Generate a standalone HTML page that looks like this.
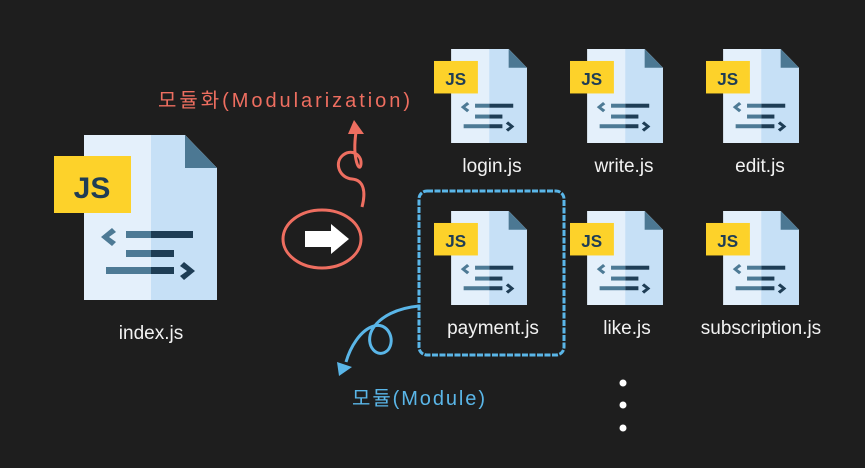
<!DOCTYPE html>
<html><head><meta charset="utf-8"><style>
html,body{margin:0;padding:0;background:#1e1e1e;}
body{width:865px;height:468px;overflow:hidden;position:relative;}
svg{position:absolute;left:0;top:0;}
.lbl{font-family:"Liberation Sans",sans-serif;fill:#f2f2f2;text-anchor:middle;}
</style></head><body>
<svg width="865" height="468" viewBox="0 0 865 468">
<defs>
<g id="ic">
  <path d="M30,0 H131 L163,33 V165 H30 Z" fill="#e4f0fb"/>
  <path d="M97,0 H131 L163,33 V165 H97 Z" fill="#c6e0f6"/>
  <path d="M131,0 L163,33 H131 Z" fill="#4c7893"/>
  <rect x="0" y="21" width="77" height="57" fill="#fdd22a"/>
  <text x="38" y="63" font-family="Liberation Sans,sans-serif" font-weight="bold" font-size="30" fill="#1f3d55" text-anchor="middle">JS</text>
  <path d="M58,93 L47,102 L58,111 L62,107 L55,102 L62,97 Z" fill="#4d7a95"/>
  <rect x="72" y="96" width="25" height="7" fill="#4d7a95"/><rect x="97" y="96" width="42" height="7" fill="#1e3d55"/>
  <rect x="72" y="115" width="25" height="7" fill="#4d7a95"/><rect x="97" y="115" width="23" height="7" fill="#1e3d55"/>
  <rect x="52" y="132" width="45" height="7" fill="#4d7a95"/><rect x="97" y="132" width="23" height="7" fill="#1e3d55"/>
  <path d="M130,127 L141,136 L130,145 L126,141 L133,136 L126,131 Z" fill="#1e3d55"/>
</g>
</defs>
<use href="#ic" transform="translate(54,135)"/>
<text class="lbl" x="151" y="339" font-size="19">index.js</text>

<use href="#ic" transform="translate(434,49) scale(0.57)"/>
<use href="#ic" transform="translate(570,49) scale(0.57)"/>
<use href="#ic" transform="translate(706,49) scale(0.57)"/>
<use href="#ic" transform="translate(434,211) scale(0.57)"/>
<use href="#ic" transform="translate(570,211) scale(0.57)"/>
<use href="#ic" transform="translate(706,211) scale(0.57)"/>
<text class="lbl" x="492" y="172" font-size="19">login.js</text>
<text class="lbl" x="624" y="172" font-size="19">write.js</text>
<text class="lbl" x="760" y="172" font-size="19">edit.js</text>
<text class="lbl" x="493" y="334" font-size="19">payment.js</text>
<text class="lbl" x="627" y="334" font-size="19">like.js</text>
<text class="lbl" x="761" y="334" font-size="19">subscription.js</text>
<circle cx="623" cy="383" r="3.5" fill="#fff"/><circle cx="623" cy="405" r="3.5" fill="#fff"/><circle cx="623" cy="428" r="3.5" fill="#fff"/>

<!-- red -->
<ellipse cx="322" cy="239" rx="39" ry="29" fill="none" stroke="#ee6e60" stroke-width="3"/>
<path d="M305,231 H331 V224 L349,239 L331,254 V247 H305 Z" fill="#fff"/>
<path d="M362,207 C366,192 364,180 352,179 C340,178 334,164 342,156 C350,148 362,154 361,164 C360,174 352,160 356,132" fill="none" stroke="#ee6e60" stroke-width="3"/>
<path d="M348,134 L354,120 L364,134 Z" fill="#ee6e60"/>
<text x="158" y="107" font-family="Liberation Sans,'Noto Sans CJK KR',sans-serif" font-size="20" fill="#ee6e60" textLength="252">모듈화(Modularization)</text>

<!-- blue -->
<rect x="419" y="191" width="145" height="164" rx="8" fill="none" stroke="#5ab6e8" stroke-width="3" stroke-dasharray="6 1.5"/>
<path d="M419,306 C398,308 380,316 372,330 C364,346 378,360 388,350 C396,340 388,322 374,326 C360,330 350,348 346,362" fill="none" stroke="#5ab6e8" stroke-width="3"/>
<path d="M337,362 L339,376 L352,367 Z" fill="#5ab6e8"/>
<text x="352" y="405" font-family="Liberation Sans,'Noto Sans CJK KR',sans-serif" font-size="20" fill="#5ab6e8" textLength="133">모듈(Module)</text>
</svg>
</body></html>
